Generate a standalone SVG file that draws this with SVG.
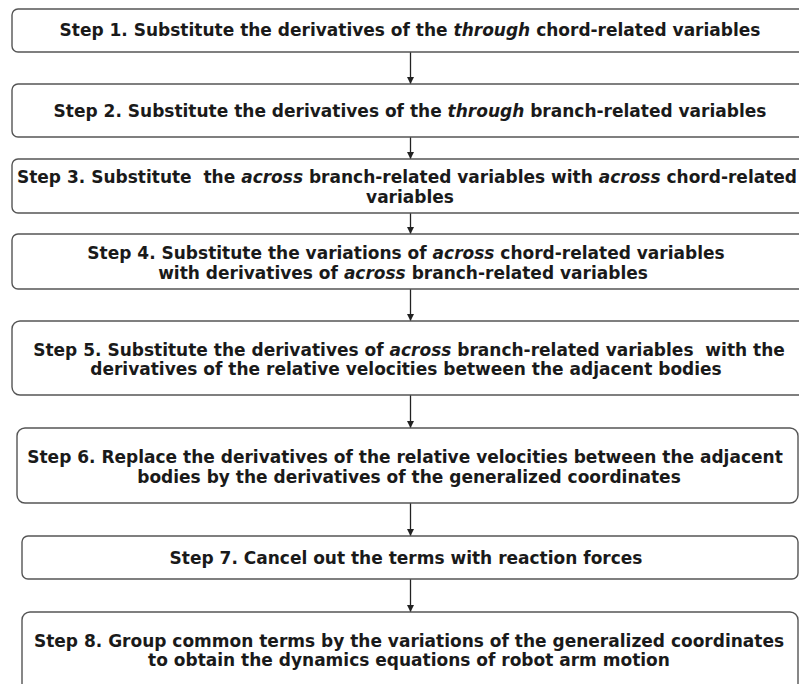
<svg xmlns="http://www.w3.org/2000/svg" width="799" height="684" viewBox="0 0 799 684">
<defs>
<style>
.box{fill:#fff;stroke:#555;stroke-width:1.4}
.t{font-family:"DejaVu Sans",Verdana,sans-serif;font-size:17px;font-weight:bold;fill:#1a1a1a;text-anchor:middle;white-space:pre}
.i{font-style:italic}
.c{stroke:#222;stroke-width:1.3;fill:none;marker-end:url(#ah)}
</style>
<marker id="ah" viewBox="0 0 10 10" refX="10" refY="5" markerWidth="7" markerHeight="7" markerUnits="userSpaceOnUse" orient="auto"><path d="M0,0 L10,5 L0,10 z" fill="#222"/></marker>
</defs>
<rect width="799" height="684" fill="#fff"/>
<g id="connectors">
<line class="c" x1="410.5" y1="52" x2="410.5" y2="84"/>
<line class="c" x1="410.5" y1="137" x2="410.5" y2="159"/>
<line class="c" x1="410.5" y1="213" x2="410.5" y2="234"/>
<line class="c" x1="410.5" y1="289" x2="410.5" y2="321"/>
<line class="c" x1="410.5" y1="395" x2="410.5" y2="428"/>
<line class="c" x1="410.5" y1="503" x2="410.5" y2="536"/>
<line class="c" x1="410.5" y1="579" x2="410.5" y2="612"/>
</g>
<g id="step1">
<rect class="box" x="12" y="9" width="810" height="43" rx="6"/>
<text class="t" x="410" y="36">Step 1. Substitute the derivatives of the <tspan class="i">through</tspan> chord-related variables</text>
</g>
<g id="step2">
<rect class="box" x="12" y="84" width="810" height="53" rx="6"/>
<text class="t" x="410" y="117">Step 2. Substitute the derivatives of the <tspan class="i">through</tspan> branch-related variables</text>
</g>
<g id="step3">
<rect class="box" x="12" y="159" width="810" height="54" rx="6"/>
<text class="t" x="407" y="183">Step 3. Substitute  the <tspan class="i">across</tspan> branch-related variables with <tspan class="i">across</tspan> chord-related</text>
<text class="t" x="410" y="203">variables</text>
</g>
<g id="step4">
<rect class="box" x="12" y="234" width="810" height="55" rx="6"/>
<text class="t" x="406" y="259">Step 4. Substitute the variations of <tspan class="i">across</tspan> chord-related variables</text>
<text class="t" x="403" y="279">with derivatives of <tspan class="i">across</tspan> branch-related variables</text>
</g>
<g id="step5">
<rect class="box" x="12" y="321" width="810" height="74" rx="8"/>
<text class="t" x="409" y="356">Step 5. Substitute the derivatives of <tspan class="i">across</tspan> branch-related variables  with the</text>
<text class="t" x="406" y="375">derivatives of the relative velocities between the adjacent bodies</text>
</g>
<g id="step6">
<rect class="box" x="17" y="428" width="781" height="75" rx="8"/>
<text class="t" x="405" y="463">Step 6. Replace the derivatives of the relative velocities between the adjacent</text>
<text class="t" x="409" y="483">bodies by the derivatives of the generalized coordinates</text>
</g>
<g id="step7">
<rect class="box" x="22" y="536" width="776" height="43" rx="6"/>
<text class="t" x="406" y="564">Step 7. Cancel out the terms with reaction forces</text>
</g>
<g id="step8">
<rect class="box" x="22" y="612" width="776" height="80" rx="8"/>
<text class="t" x="409" y="647">Step 8. Group common terms by the variations of the generalized coordinates</text>
<text class="t" x="409" y="666">to obtain the dynamics equations of robot arm motion</text>
</g>
</svg>
